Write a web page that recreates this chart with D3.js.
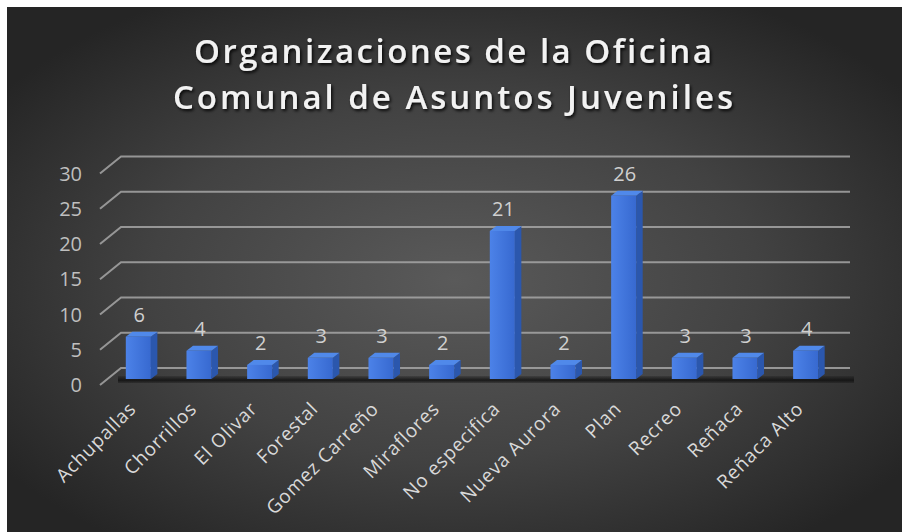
<!DOCTYPE html>
<html>
<head>
<meta charset="utf-8">
<script src="https://cdn.jsdelivr.net/npm/d3@7"></script>
<style>
  html, body { margin: 0; padding: 0; background: #ffffff; }
  svg { display: block; }
</style>
</head>
<body>
<script>
const titleLines = ["Organizaciones de la Oficina", "Comunal de Asuntos Juveniles"];
const categories = ["Achupallas", "Chorrillos", "El Olivar", "Forestal", "Gomez Carreño", "Miraflores",
  "No especifica", "Nueva Aurora", "Plan", "Recreo", "Reñaca", "Reñaca Alto"];
const values = [6, 4, 2, 3, 3, 2, 21, 2, 26, 3, 3, 4];
const yTicks = [0, 5, 10, 15, 20, 25, 30];

const W = 902, H = 532;
const svg = d3.select("body").append("svg").attr("width", W).attr("height", H);
const defs = svg.append("defs");

const bg = defs.append("radialGradient").attr("id", "bg")
  .attr("cx", "50%").attr("cy", "52%").attr("r", "62%");
bg.append("stop").attr("offset", "0%").attr("stop-color", "#5a5a5a");
bg.append("stop").attr("offset", "55%").attr("stop-color", "#424242");
bg.append("stop").attr("offset", "100%").attr("stop-color", "#252525");

const front = defs.append("linearGradient").attr("id", "front").attr("x1", "0").attr("x2", "1").attr("y1", "0").attr("y2", "0");
front.append("stop").attr("offset", "0%").attr("stop-color", "#4c82e8");
front.append("stop").attr("offset", "100%").attr("stop-color", "#3769d0");

const shadowF = defs.append("filter").attr("id", "tshadow").attr("x", "-10%").attr("y", "-30%").attr("width", "120%").attr("height", "160%");
shadowF.append("feDropShadow").attr("dx", 1.5).attr("dy", 2).attr("stdDeviation", 1.5)
  .attr("flood-color", "#000").attr("flood-opacity", 0.85);

const floorG = defs.append("linearGradient").attr("id", "floorsh").attr("x1", "0").attr("x2", "0").attr("y1", "0").attr("y2", "1");
floorG.append("stop").attr("offset", "0%").attr("stop-color", "#111").attr("stop-opacity", 0.2);
floorG.append("stop").attr("offset", "60%").attr("stop-color", "#111").attr("stop-opacity", 0.85);
floorG.append("stop").attr("offset", "100%").attr("stop-color", "#111").attr("stop-opacity", 0.3);

svg.append("rect").attr("x", 7).attr("y", 7).attr("width", W - 7).attr("height", H - 7).attr("fill", "url(#bg)");

// Title
const title = svg.append("g").attr("filter", "url(#tshadow)");
const titleTargets = [518, 560];
titleLines.forEach((t, i) => {
  const tx = title.append("text")
    .attr("x", 453).attr("y", 63 + i * 46)
    .attr("text-anchor", "middle")
    .attr("font-family", "'Open Sans', sans-serif")
    .attr("font-weight", 600)
    .attr("font-size", 33)
    .attr("fill", "#f2f2f2")
    .text(t);
  const w = tx.node().getComputedTextLength();
  const ls = (titleTargets[i] - w) / (t.length - 1);
  tx.attr("letter-spacing", ls.toFixed(2));
  tx.attr("x", 453 + ls / 2);
});

// Scales
const x = d3.scaleBand().domain(categories).range([108, 836]).paddingInner(0.587).paddingOuter(0.2935);
const y = d3.scaleLinear().domain([0, 30]).range([379, 167.5]);
const backOff = -11, frontOff = 6;
const wallDX = 21;
const xLeftFront = 100, xRight = 850;

// Gridlines (back wall + side wall edge)
const grid = svg.append("g");
yTicks.forEach(v => {
  const yb = y(v) + backOff, yf = y(v) + frontOff;
  grid.append("path")
    .attr("d", `M${xLeftFront},${yf} L${xLeftFront + wallDX},${yb} L${xRight},${yb}`)
    .attr("fill", "none").attr("stroke", "#a6a6a6").attr("stroke-width", 2).attr("stroke-opacity", 0.85);
});

// Floor shadow strip
svg.append("rect").attr("x", xLeftFront + 18).attr("y", y(0) - 3).attr("width", xRight - xLeftFront - 14).attr("height", 7)
  .attr("fill", "url(#floorsh)");

// Y tick labels
svg.append("g").selectAll("text").data(yTicks).join("text")
  .attr("x", 82).attr("y", d => y(d) + frontOff)
  .attr("dy", "0.36em")
  .attr("text-anchor", "end")
  .attr("font-family", "'Open Sans', sans-serif")
  .attr("font-size", 20)
  .attr("fill", "#bfbfbf")
  .text(d => d);

// Bars
const bw = x.bandwidth();
const ddx = 6.5, ddy = -5;
const bars = svg.append("g").selectAll("g").data(categories.map((c, i) => ({ c, v: values[i] }))).join("g");
bars.append("path")
  .attr("d", d => {
    const x0 = x(d.c) + bw, yt = y(d.v), yb = y(0);
    return `M${x0},${yt} L${x0 + ddx},${yt + ddy} L${x0 + ddx},${yb + ddy} L${x0},${yb} Z`;
  })
  .attr("fill", "#2b57ad");
bars.append("path")
  .attr("d", d => {
    const x0 = x(d.c), yt = y(d.v);
    return `M${x0},${yt} L${x0 + ddx},${yt + ddy} L${x0 + bw + ddx},${yt + ddy} L${x0 + bw},${yt} Z`;
  })
  .attr("fill", "#5089ea");
bars.append("rect")
  .attr("x", d => x(d.c)).attr("y", d => y(d.v))
  .attr("width", bw).attr("height", d => y(0) - y(d.v))
  .attr("fill", "url(#front)");

// Data labels
bars.append("text")
  .attr("x", d => x(d.c) + bw / 2 + 1)
  .attr("y", d => y(d.v) - 15)
  .attr("text-anchor", "middle")
  .attr("font-family", "'Open Sans', sans-serif")
  .attr("font-size", 20)
  .attr("fill", "#d0d0d0")
  .text(d => d.v);

// Category labels
svg.append("g").selectAll("text").data(categories).join("text")
  .attr("transform", d => `translate(${x(d) + bw / 2 - 1},410) rotate(-45)`)
  .attr("text-anchor", "end")
  .attr("font-family", "'Open Sans', sans-serif")
  .attr("font-size", 19)
  .attr("letter-spacing", 0.8)
  .attr("fill", "#d9d9d9")
  .text(d => d);
</script>
</body>
</html>
